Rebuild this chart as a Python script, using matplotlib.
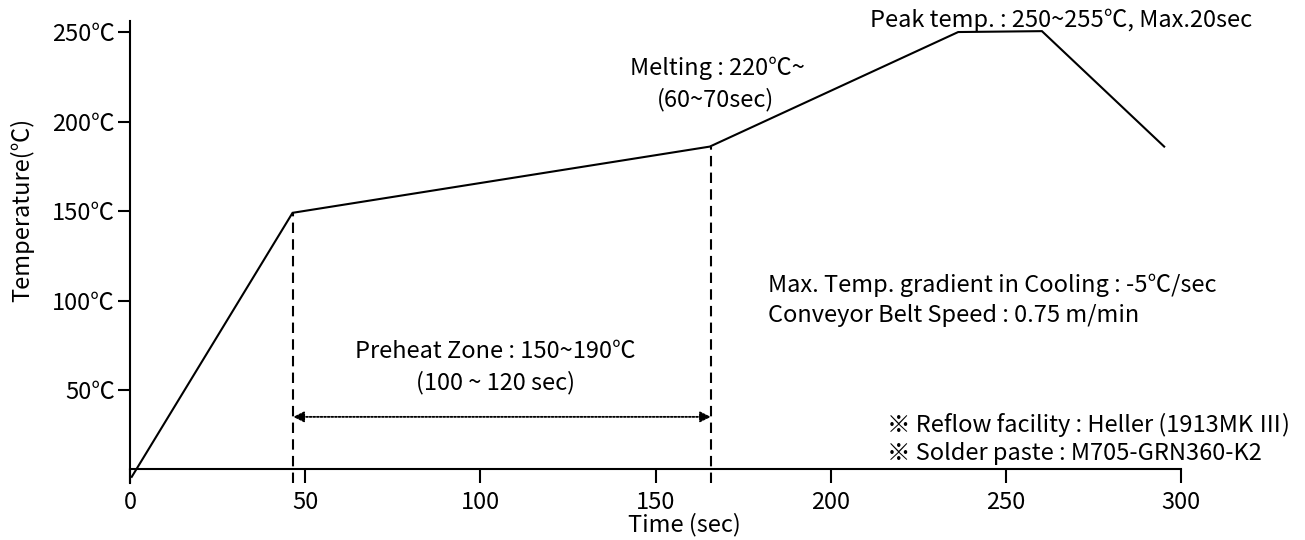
import matplotlib
matplotlib.use("Agg")
import matplotlib.pyplot as plt

plt.rcParams['font.family'] = ['Noto Sans CJK KR', 'DejaVu Sans']

# ---- data ----
time_sec = [0.5, 46.4, 165.5, 236.4, 260.3, 295.2]
temp_c = [1.5, 149, 186, 250, 250.5, 186]
preheat_start = 46.6
preheat_end = 165.8
arrow_y = 35
x_ticks = [0, 50, 100, 150, 200, 250, 300]
y_ticks = [50, 100, 150, 200, 250]
y_tick_labels = ["50℃", "100℃", "150℃", "200℃", "250℃"]

W, H = 1305, 540
fig = plt.figure(figsize=(W / 100, H / 100), dpi=100)
left_px, right_px = 130, 1181
top_px, bot_px = 21.3, 483.1
ax = fig.add_axes([left_px / W, 1 - bot_px / H, (right_px - left_px) / W, (bot_px - top_px) / H])
ax.set_xlim(0, 300)
ax.set_ylim(-2, 256)

ax.plot(time_sec, temp_c, color='black', lw=1.5, solid_joinstyle='miter')

# dashed verticals
dash = (0, (5, 3))
ax.plot([preheat_start, preheat_start], [-2, temp_c[1]], color='black', lw=1.5, linestyle=dash)
ax.plot([preheat_end, preheat_end], [-2, temp_c[2]], color='black', lw=1.5, linestyle=dash)

# double arrow (dotted)
ax.annotate('', xy=(preheat_end, arrow_y), xytext=(preheat_start, arrow_y),
            arrowprops=dict(arrowstyle='<|-|>', linestyle=(0, (1, 1)), color='black',
                            lw=1.3, mutation_scale=16, shrinkA=0, shrinkB=0))

# spines / ticks
for s in ['top', 'right']:
    ax.spines[s].set_visible(False)
ax.spines['bottom'].set_position(('data', 6))
ax.spines['bottom'].set_linewidth(1.5)
ax.spines['left'].set_linewidth(1.5)
ax.spines['bottom'].set_bounds(0, 300)
ax.set_xticks(x_ticks)
ax.set_xticklabels([str(v) for v in x_ticks])
ax.set_yticks(y_ticks)
ax.set_yticklabels(y_tick_labels)
fs = 17
ax.tick_params(axis='x', direction='out', length=10, width=1.5, labelsize=fs, pad=6)
ax.tick_params(axis='y', direction='out', length=9, width=1.5, labelsize=fs, pad=2)

ax.text(167.6, 230, "Melting : 220℃~", ha='center', va='center', fontsize=fs)
ax.text(167.0, 212, "(60~70sec)", ha='center', va='center', fontsize=fs)
ax.text(211.2, 256.7, "Peak temp. : 250~255℃, Max.20sec", ha='left', va='center', fontsize=fs)
ax.text(104.2, 71.8, "Preheat Zone : 150~190℃", ha='center', va='center', fontsize=fs)
ax.text(104.2, 53.9, "(100 ~ 120 sec)", ha='center', va='center', fontsize=fs)
ax.text(182.1, 108.7, "Max. Temp. gradient in Cooling : -5℃/sec", ha='left', va='center', fontsize=fs)
ax.text(182.1, 91.9, "Conveyor Belt Speed : 0.75 m/min", ha='left', va='center', fontsize=fs)
ax.text(216.1, 30.4, "※ Reflow facility : Heller (1913MK Ⅲ)", ha='left', va='center', fontsize=fs)
ax.text(216.1, 14.8, "※ Solder paste : M705-GRN360-K2", ha='left', va='center', fontsize=fs)

fig.text(684 / W, 1 - 525 / H, "Time (sec)", ha='center', va='center', fontsize=fs)
fig.text(22 / W, 1 - 210 / H, "Temperature(℃)", ha='center', va='center', rotation=90, fontsize=fs)

fig.savefig("out.png", dpi=100, facecolor='white')
